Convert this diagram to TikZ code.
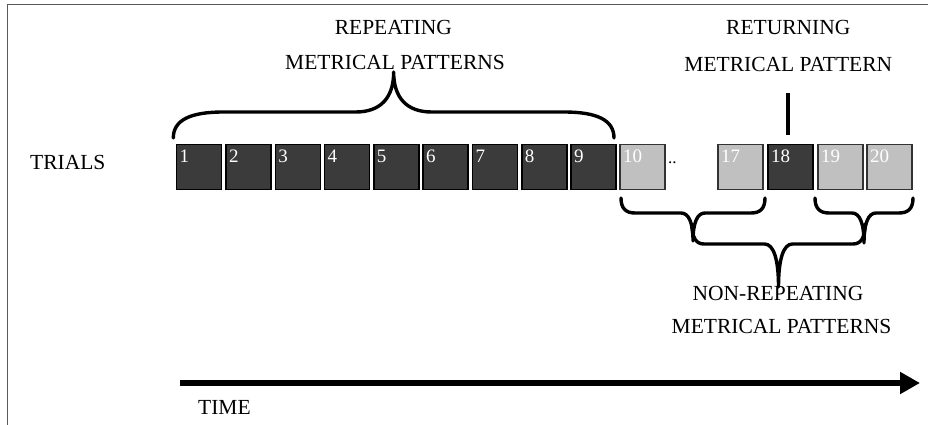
\documentclass[tikz,border=0pt]{standalone}
\usepackage{fontspec}
\setmainfont{Liberation Serif}
\usetikzlibrary{arrows.meta}
\definecolor{darksq}{HTML}{3B3B3B}
\definecolor{lightsq}{HTML}{C0C0C0}
\definecolor{framegray}{HTML}{5A5A5A}
\newcommand{\curlybrace}[7]{%
\draw[bracestyle] (#1,#3) .. controls (#1,{#3+0.7*(#4-#3)}) and ({#1+0.35*#6},#4) .. ({#1+#6},#4)
 -- ({(#1+#2)/2-#7},#4) .. controls ({(#1+#2)/2-0.35*#7},#4) and ({(#1+#2)/2},{#4+0.35*(#5-#4)}) .. ({(#1+#2)/2},#5)
 .. controls ({(#1+#2)/2},{#4+0.35*(#5-#4)}) and ({(#1+#2)/2+0.35*#7},#4) .. ({(#1+#2)/2+#7},#4)
 -- ({#2-#6},#4) .. controls ({#2-0.35*#6},#4) and (#2,{#3+0.7*(#4-#3)}) .. (#2,#3);}
\tikzset{
  sqbase/.style={rectangle, line width=1.5pt, minimum width=45pt, minimum height=45pt,
    inner xsep=3pt, inner ysep=2pt, text width=39pt, text height=16pt, text depth=25pt,
    align=left, text=white, font=\fontsize{19}{19}\selectfont},
  sqdark/.style={sqbase, draw=black, fill=darksq},
  sqlight/.style={sqbase, draw=black!80, fill=lightsq},
  label/.style={inner sep=0pt, font=\fontsize{21.5}{21.5}\selectfont, text=black},
  bracestyle/.style={draw=black, line width=3.4pt, line cap=round, line join=round},
}
\begin{document}
\begin{tikzpicture}[x=1pt, y=-1pt]
\useasboundingbox (0,0) rectangle (928,425);
\fill[white] (0,0) rectangle (928,425);
% frame
\draw[framegray, line width=1.5pt] (7.3,425) -- (7.3,4.3) -- (928,4.3);
% squares
\foreach \i in {1,...,9}
  \node[sqdark] (s\i) at ({199.2+49.3*(\i-1)},167) {\i};
\node[sqlight] (s10) at (642.5,167) {10};
\node[sqlight] (s17) at (740.5,167) {17};
\node[sqdark]  (s18) at (790.5,167) {18};
\node[sqlight] (s19) at (840.5,167) {19};
\node[sqlight] (s20) at (889.5,167) {20};
\node[label, anchor=base west, font=\fontsize{17}{17}\selectfont] (dots) at (668,163) {..};
% texts
\node[label, anchor=base west] (trials) at (30,169.3) {TRIALS};
\node[label, anchor=base] (rep1) at (393.3,35) {REPEATING};
\node[label, anchor=base] (rep2) at (395,70) {METRICAL PATTERNS};
\node[label, anchor=base] (ret1) at (788.3,35) {RETURNING};
\node[label, anchor=base] (ret2) at (788.3,71.5) {METRICAL PATTERN};
\node[label, anchor=base] (non1) at (778,300) {NON-REPEATING};
\node[label, anchor=base] (non2) at (781.5,333) {METRICAL PATTERNS};
\node[label, anchor=base west] (time) at (198,414) {TIME};
% braces
\curlybrace{173.3}{614}{138}{112}{72}{50}{38}
\curlybrace{621}{765}{198}{213}{241}{14}{12}
\curlybrace{815}{913}{198}{213}{243}{14}{12}
\curlybrace{692}{865}{224}{244}{287}{12}{14}
% returning marker
\coordinate (rettop) at (788,93);
\coordinate (retbot) at (788,135);
\draw[line width=3.4pt] (retbot) -- (rettop);
% time arrow
\coordinate (t0) at (180,383);
\coordinate (t1) at (920,383);
\draw[line width=6pt, -{Triangle[length=20pt,width=21pt]}] (t0) -- (t1);
\end{tikzpicture}
\end{document}
